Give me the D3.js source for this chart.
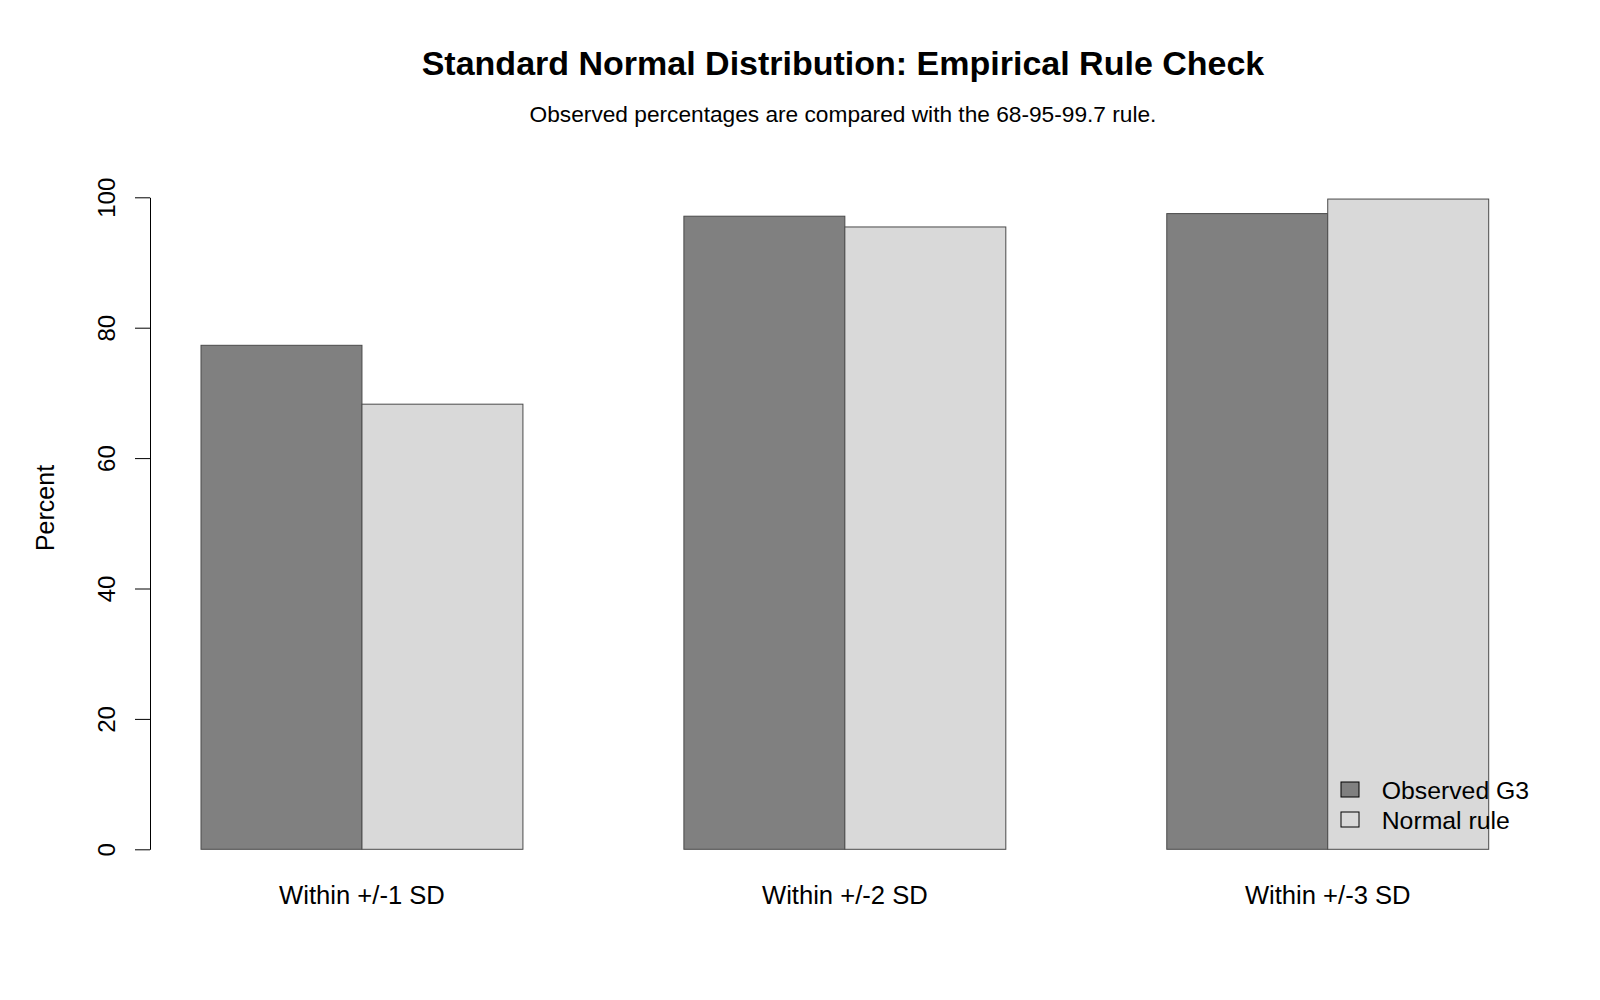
<!DOCTYPE html>
<html>
<head>
<meta charset="utf-8">
<script src="https://cdn.jsdelivr.net/npm/d3@7"></script>
<style>
  html, body { margin: 0; padding: 0; background: #ffffff; }
  svg text { font-family: "Liberation Sans", Arial, sans-serif; fill: #000; }
</style>
</head>
<body>
<svg id="chart" width="1600" height="1000"></svg>
<script>
const categories = ["Within +/-1 SD", "Within +/-2 SD", "Within +/-3 SD"];
const seriesNames = ["Observed G3", "Normal rule"];
const observedG3 = [77.3, 97.1, 97.5];
const normalRule = [68.27, 95.45, 99.73];
const yTicks = [0, 20, 40, 60, 80, 100];
const titleText = "Standard Normal Distribution: Empirical Rule Check";
const subtitleText = "Observed percentages are compared with the 68-95-99.7 rule.";
const yLabel = "Percent";
const seriesFill = ["#808080", "#d9d9d9"];

const svg = d3.select("#chart");
const W = 1600, H = 1000;
svg.append("rect").attr("width", W).attr("height", H).attr("fill", "#ffffff");

// scales
const y = d3.scaleLinear().domain([0, 100]).range([849.3, 197.3]);
const xGroup = d3.scaleBand().domain(categories).range([201, 1488.7]).paddingInner(1 / 3).paddingOuter(0);
const xSeries = d3.scaleBand().domain(seriesNames).range([0, xGroup.bandwidth()]).padding(0);

const rows = categories.map((c, i) => ({ cat: c, vals: [observedG3[i], normalRule[i]] }));

// bars
const groups = svg.append("g").selectAll("g.grp").data(rows).join("g")
  .attr("class", "grp")
  .attr("transform", d => `translate(${xGroup(d.cat)},0)`);

groups.selectAll("rect").data(d => d.vals.map((v, j) => ({ name: seriesNames[j], v, j })))
  .join("rect")
  .attr("x", d => xSeries(d.name))
  .attr("width", xSeries.bandwidth())
  .attr("y", d => y(d.v))
  .attr("height", d => y(0) - y(d.v))
  .attr("fill", d => seriesFill[d.j])
  .attr("stroke", "#4a4a4a")
  .attr("stroke-width", 1);

// x category labels
svg.append("g").selectAll("text").data(categories).join("text")
  .attr("x", d => xGroup(d) + xGroup.bandwidth() / 2)
  .attr("y", 904)
  .attr("text-anchor", "middle")
  .attr("font-size", 25.6)
  .text(d => d);

// y axis
const yAxis = d3.axisLeft(y).tickValues(yTicks).tickSize(15).tickSizeOuter(0).tickFormat(d3.format("d"));
const gy = svg.append("g").attr("transform", "translate(150,0)").call(yAxis);
gy.select(".domain").attr("stroke", "#000").attr("stroke-width", 1);
gy.selectAll(".tick line").attr("stroke", "#000").attr("stroke-width", 1);
gy.selectAll(".tick text")
  .attr("x", null).attr("dy", null)
  .attr("transform", "translate(-35,0) rotate(-90)")
  .attr("text-anchor", "middle")
  .attr("font-size", 24)
  .attr("font-family", "Liberation Sans, Arial, sans-serif")
  .attr("fill", "#000");

// y label
svg.append("text")
  .attr("transform", "translate(54,508) rotate(-90)")
  .attr("text-anchor", "middle")
  .attr("font-size", 25)
  .text(yLabel);

// title & subtitle
svg.append("text")
  .attr("x", 843).attr("y", 75)
  .attr("text-anchor", "middle")
  .attr("font-size", 34)
  .attr("font-weight", "bold")
  .text(titleText);
svg.append("text")
  .attr("x", 843).attr("y", 122)
  .attr("text-anchor", "middle")
  .attr("font-size", 22.7)
  .text(subtitleText);

// legend
const legend = svg.append("g").attr("transform", "translate(1341,782)");
const li = legend.selectAll("g").data(seriesNames).join("g")
  .attr("transform", (d, i) => `translate(0,${i * 30})`);
li.append("rect")
  .attr("width", 18).attr("height", 15)
  .attr("fill", (d, i) => seriesFill[i])
  .attr("stroke", "#000").attr("stroke-width", 1);
li.append("text")
  .attr("x", 40.7).attr("y", 16.5)
  .attr("font-size", 24.8)
  .text(d => d);
</script>
</body>
</html>
